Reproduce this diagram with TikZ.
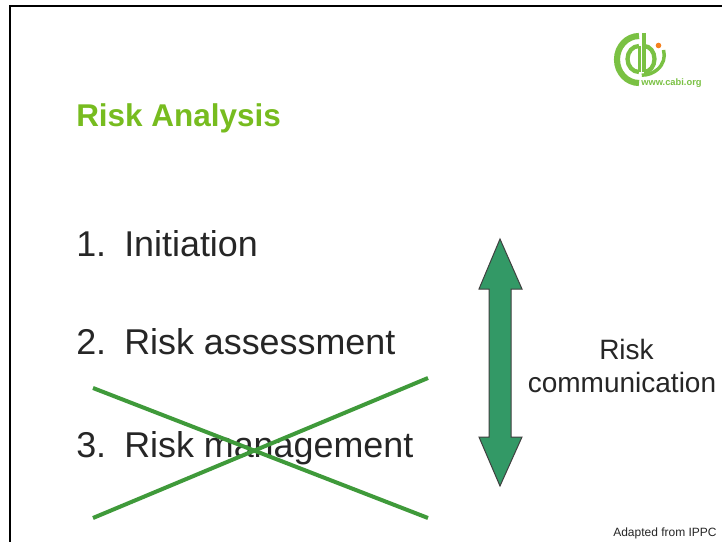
\documentclass[tikz,border=0pt]{standalone}
\usepackage{fontspec}
\setmainfont{Liberation Sans}
\definecolor{cabi}{HTML}{77BC1F}
\definecolor{crossgreen}{HTML}{3F9A3A}
\definecolor{arrowgreen}{HTML}{339966}
\definecolor{inktext}{HTML}{262626}
\definecolor{logogreen}{HTML}{7AC143}
\definecolor{logoorange}{HTML}{F58220}
\tikzset{
  listitem/.style={anchor=base west,inner sep=0pt,text=inktext,font=\fontsize{26.9pt}{30pt}\selectfont},
  crossline/.style={draw=crossgreen,line width=3pt},
  logostroke/.style={draw=logogreen,line width=3pt}
}
\begin{document}
\begin{tikzpicture}[x=0.75pt,y=-0.75pt]
\useasboundingbox (0,0) rectangle (722,542);
\fill[white] (0,0) rectangle (722,542);
\draw[line width=1.5pt,black] (10,542) -- (10,6) -- (722,6);
% logo
\draw[logostroke,line width=4.6pt] (639,36) arc (-90:-270:22 and 23.5);
\draw[logostroke,line width=3.2pt] (639,46) arc (-90:-270:11.5 and 13);
\draw[logostroke,line width=2.2pt] (639.5,46) -- (639.5,72);
\draw[logostroke,line width=3pt] (644,33) -- (644,72);
\draw[logostroke,line width=3.2pt] (644,46) arc (-90:90:10.5 and 13);
\draw[logostroke,line width=2.6pt] (663.5,50) arc (-15:90:22.5 and 20);
\fill[logoorange] (658.5,45.5) circle (2.8);
\node[anchor=base west,inner sep=0pt,text=logogreen,font=\bfseries\fontsize{7pt}{8pt}\selectfont] (url) at (641,85.5) {www.cabi.org};
% title and list
\node[anchor=base west,inner sep=0pt,text=cabi,font=\bfseries\fontsize{23.6pt}{28pt}\selectfont] (title) at (76,126.5) {Risk Analysis};
\node[listitem] (n1) at (76,256) {1.};
\node[listitem] (t1) at (124,256) {Initiation};
\node[listitem] (n2) at (76,354) {2.};
\node[listitem] (t2) at (124,354) {Risk assessment};
\node[listitem] (n3) at (76,457) {3.};
\node[listitem] (t3) at (124,457) {Risk management};
% cross
\coordinate (c1) at (93,388);
\coordinate (c2) at (428,518);
\coordinate (c3) at (93,518);
\coordinate (c4) at (428,378);
\draw[crossline] (c1) -- (c2);
\draw[crossline] (c3) -- (c4);
% double arrow
\draw[fill=arrowgreen,draw=black!75,line width=0.75pt,line join=miter]
  (500,239) -- (522,289) -- (511,289) -- (511,437) -- (522,437) -- (500,486)
  -- (479,437) -- (489,437) -- (489,289) -- (479,289) -- cycle;
% labels
\node[anchor=base,inner sep=0pt,text=inktext,font=\fontsize{21pt}{25pt}\selectfont] (r1) at (626.5,359) {Risk};
\node[anchor=base,inner sep=0pt,text=inktext,font=\fontsize{21pt}{25pt}\selectfont] (r2) at (622,392) {communication};
\node[anchor=base west,inner sep=0pt,text=inktext,font=\fontsize{9pt}{11pt}\selectfont] (src) at (613,536) {Adapted from IPPC};
\end{tikzpicture}
\end{document}
